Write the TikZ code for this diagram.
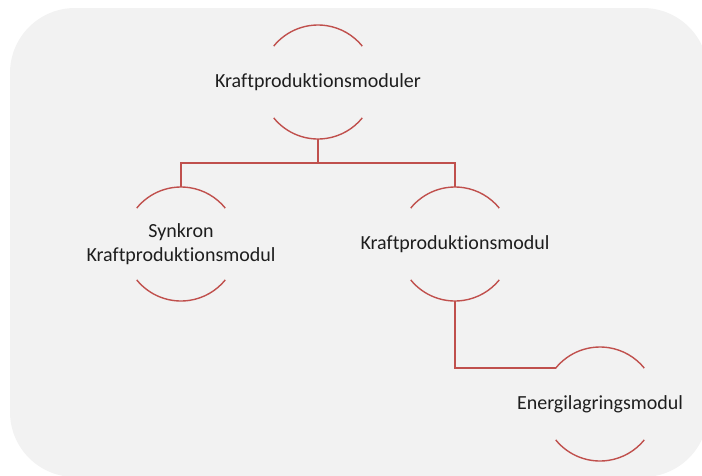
\documentclass[tikz,border=0pt]{standalone}
\usepackage{fontspec}
\setmainfont{Carlito}[Ligatures={NoCommon,NoContextual}]
\usetikzlibrary{calc}
\definecolor{bgc}{HTML}{F2F2F2}
\definecolor{linec}{HTML}{C0504D}
\definecolor{txtc}{HTML}{1E1E1E}
\begin{document}
\begin{tikzpicture}[x=1pt,y=1pt,
  lbl/.style={inner sep=0pt, align=center, text=txtc, font=\fontsize{20}{24}\selectfont},
  arcline/.style={draw=linec, line width=1.4pt},
  conn/.style={draw=linec, line width=1.4pt}]
\useasboundingbox (0,0) rectangle (702,-475);
\fill[bgc, rounded corners=65pt] (10,-8) rectangle (708,-477);
% nodes
\node[lbl] (t) at (318,-82) {Kraftproduktionsmoduler};
\node[lbl] (s) at (181,-244) {Synkron\\Kraftproduktionsmodul};
\node[lbl] (k) at (455,-244) {Kraftproduktionsmodul};
\node[lbl] (e) at (600,-404) {Energilagringsmodul};
% arcs
\foreach \n in {t,s,k,e}{
  \draw[arcline] ($(\n.center)+(141:57)$) arc[start angle=141, end angle=39, radius=57];
  \draw[arcline] ($(\n.center)+(219:57)$) arc[start angle=219, end angle=321, radius=57];
}
\coordinate (tb) at ($(t.center)+(0,-57)$);
\coordinate (st) at ($(s.center)+(0,57)$);
\coordinate (kt) at ($(k.center)+(0,57)$);
\coordinate (kb) at ($(k.center)+(0,-57)$);
\coordinate (el) at ($(e.center)+(141:57)$);
\draw[conn] (tb) -- ++(0,-24) -| (st);
\draw[conn] (tb) -- ++(0,-24) -| (kt);
\draw[conn] (kb) |- (el);
\end{tikzpicture}
\end{document}
